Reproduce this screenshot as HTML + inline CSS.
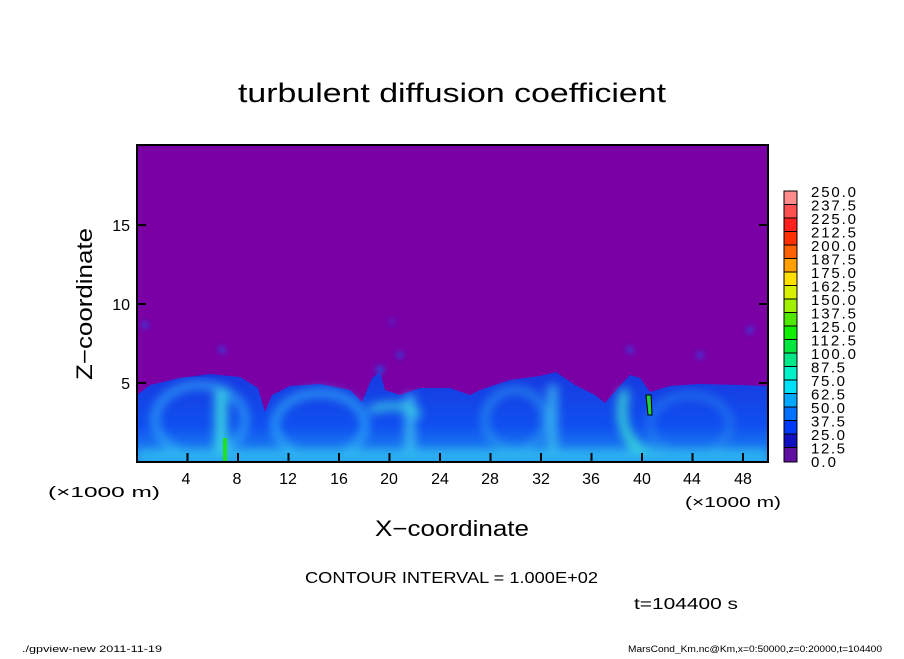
<!DOCTYPE html>
<html><head><meta charset="utf-8"><style>
body{margin:0;background:#fff;}
svg text{font-family:"Liberation Sans",sans-serif;fill:#000;}
</style></head><body>
<svg width="904" height="654" viewBox="0 0 904 654" xmlns="http://www.w3.org/2000/svg">
<defs>
<filter id="b3"><feGaussianBlur stdDeviation="3"/></filter>
<filter id="b6"><feGaussianBlur stdDeviation="5"/></filter>
<linearGradient id="lg" x1="0" y1="0" x2="0" y2="1">
<stop offset="0" stop-color="#1838e0"/><stop offset="0.6" stop-color="#1050f0"/><stop offset="1" stop-color="#2090f0"/>
</linearGradient>
<clipPath id="cp"><rect x="137" y="145" width="631" height="317"/></clipPath>
</defs>
<text x="238" y="102" font-size="27" textLength="428" lengthAdjust="spacingAndGlyphs">turbulent diffusion coefficient</text>
<g clip-path="url(#cp)">
<rect x="137" y="145" width="631" height="317" fill="#7a00a6"/>
<path d="M137,395 L150,385 L180,378 L210,374 L240,377 L258,388 L265,412 L272,395 L290,386 L320,384 L350,390 L362,402 L372,378 L380,372 L385,390 L400,395 L420,388 L450,388 L470,395 L480,390 L510,380 L540,376 L556,372 L575,385 L595,395 L605,403 L618,388 L630,375 L640,378 L650,392 L670,386 L700,384 L740,385 L768,386 L768,462 L137,462 Z" fill="url(#lg)"/>
<g filter="url(#b6)" opacity="0.85">
<ellipse cx="200" cy="420" rx="45" ry="35" fill="none" stroke="#30b0f8" stroke-width="7"/>
<ellipse cx="320" cy="425" rx="45" ry="32" fill="none" stroke="#30b8f8" stroke-width="7"/>
<ellipse cx="515" cy="420" rx="30" ry="30" fill="none" stroke="#2aa0f0" stroke-width="6"/>
<ellipse cx="690" cy="425" rx="40" ry="30" fill="none" stroke="#2a90f0" stroke-width="5"/>
<rect x="215" y="390" width="12" height="70" fill="#40e8e0"/>
<rect x="548" y="385" width="9" height="75" fill="#40c8f0"/>
<rect x="405" y="395" width="10" height="65" fill="#40c8f0"/>
<path d="M625,390 Q615,430 640,450 L660,455" stroke="#40f0d0" stroke-width="9" fill="none"/>
<path d="M370,410 Q400,400 420,415" stroke="#40e8e0" stroke-width="7" fill="none"/>
<rect x="137" y="450" width="631" height="12" fill="#30c0f0"/>
</g>
<g fill="#2050e8" filter="url(#b3)">
<circle cx="222" cy="350" r="3"/><circle cx="380" cy="370" r="4"/><circle cx="400" cy="355" r="3"/><circle cx="630" cy="350" r="3"/><circle cx="700" cy="355" r="3"/><circle cx="750" cy="330" r="3"/><circle cx="145" cy="325" r="3"/><circle cx="392" cy="322" r="2"/>
</g>
<rect x="223" y="438" width="4" height="24" fill="#20e020"/>
<path d="M646,395 L651,395 L652,415 L648,415 Z" fill="#20d040" stroke="#000" stroke-width="1"/>
</g>
<rect x="137" y="145" width="631" height="317" fill="none" stroke="#000" stroke-width="2"/>
<g stroke="#000" stroke-width="2">
<line x1="187.5" y1="462" x2="187.5" y2="453"/><line x1="238" y1="462" x2="238" y2="453"/><line x1="288.5" y1="462" x2="288.5" y2="453"/><line x1="339" y1="462" x2="339" y2="453"/><line x1="389.5" y1="462" x2="389.5" y2="453"/><line x1="440" y1="462" x2="440" y2="453"/><line x1="490.5" y1="462" x2="490.5" y2="453"/><line x1="541" y1="462" x2="541" y2="453"/><line x1="591.5" y1="462" x2="591.5" y2="453"/><line x1="642" y1="462" x2="642" y2="453"/><line x1="692.5" y1="462" x2="692.5" y2="453"/><line x1="743" y1="462" x2="743" y2="453"/>
<line x1="137" y1="383" x2="146" y2="383"/><line x1="137" y1="304" x2="146" y2="304"/><line x1="137" y1="225" x2="146" y2="225"/>
<line x1="768" y1="383" x2="759" y2="383"/><line x1="768" y1="304" x2="759" y2="304"/><line x1="768" y1="225" x2="759" y2="225"/>
</g>
<g font-size="16" text-anchor="middle">
<text x="186" y="484">4</text><text x="237" y="484">8</text><text x="288" y="484">12</text><text x="339" y="484">16</text><text x="389" y="484">20</text><text x="440" y="484">24</text><text x="490" y="484">28</text><text x="541" y="484">32</text><text x="591" y="484">36</text><text x="642" y="484">40</text><text x="692" y="484">44</text><text x="743" y="484">48</text>
</g>
<g font-size="16" text-anchor="end">
<text x="130" y="389">5</text><text x="130" y="310">10</text><text x="130" y="231">15</text>
</g>
<text x="48" y="497" font-size="15" textLength="112" lengthAdjust="spacingAndGlyphs">(×1000 m)</text>
<text x="685" y="507" font-size="15" textLength="96" lengthAdjust="spacingAndGlyphs">(×1000 m)</text>
<text x="375" y="536" font-size="22" textLength="154" lengthAdjust="spacingAndGlyphs">X−coordinate</text>
<text transform="translate(92,380) rotate(-90)" font-size="22" textLength="152" lengthAdjust="spacingAndGlyphs">Z−coordinate</text>
<text x="305" y="583" font-size="16" textLength="293" lengthAdjust="spacingAndGlyphs">CONTOUR INTERVAL = 1.000E+02</text>
<text x="634" y="609" font-size="16" textLength="104" lengthAdjust="spacingAndGlyphs">t=104400 s</text>
<text x="22" y="652" font-size="9" textLength="140" lengthAdjust="spacingAndGlyphs">./gpview-new   2011-11-19</text>
<text x="628" y="652" font-size="9" textLength="254" lengthAdjust="spacingAndGlyphs">MarsCond_Km.nc@Km,x=0:50000,z=0:20000,t=104400</text>
<g stroke="#000" stroke-width="1">
<rect x="784" y="191" width="13" height="13.5" fill="#ff8c8c"/>
<rect x="784" y="204.5" width="13" height="13.5" fill="#ff5050"/>
<rect x="784" y="218" width="13" height="13.5" fill="#ff2020"/>
<rect x="784" y="231.5" width="13" height="13.5" fill="#ff3000"/>
<rect x="784" y="245" width="13" height="13.5" fill="#ff6000"/>
<rect x="784" y="258.5" width="13" height="13.5" fill="#ffa000"/>
<rect x="784" y="272" width="13" height="13.5" fill="#ffe000"/>
<rect x="784" y="285.5" width="13" height="13.5" fill="#d8f000"/>
<rect x="784" y="299" width="13" height="13.5" fill="#a0f000"/>
<rect x="784" y="312.5" width="13" height="13.5" fill="#50e800"/>
<rect x="784" y="326" width="13" height="13.5" fill="#10f000"/>
<rect x="784" y="339.5" width="13" height="13.5" fill="#00e840"/>
<rect x="784" y="353" width="13" height="13.5" fill="#00e888"/>
<rect x="784" y="366.5" width="13" height="13.5" fill="#00f0c8"/>
<rect x="784" y="380" width="13" height="13.5" fill="#00e0f8"/>
<rect x="784" y="393.5" width="13" height="13.5" fill="#00a8ff"/>
<rect x="784" y="407" width="13" height="13.5" fill="#0070ff"/>
<rect x="784" y="420.5" width="13" height="13.5" fill="#0038f8"/>
<rect x="784" y="434" width="13" height="13.5" fill="#1010c0"/>
<rect x="784" y="447.5" width="13" height="14.5" fill="#6010a0"/>
</g>
<g font-size="15" lengthAdjust="spacingAndGlyphs">
<text x="811" y="197" textLength="45">250.0</text><text x="811" y="210.5" textLength="45">237.5</text><text x="811" y="224" textLength="45">225.0</text><text x="811" y="237.5" textLength="45">212.5</text><text x="811" y="251" textLength="45">200.0</text><text x="811" y="264.5" textLength="45">187.5</text><text x="811" y="278" textLength="45">175.0</text><text x="811" y="291.5" textLength="45">162.5</text><text x="811" y="305" textLength="45">150.0</text><text x="811" y="318.5" textLength="45">137.5</text><text x="811" y="332" textLength="45">125.0</text><text x="811" y="345.5" textLength="45">112.5</text><text x="811" y="359" textLength="45">100.0</text><text x="811" y="372.5" textLength="34">87.5</text><text x="811" y="386" textLength="34">75.0</text><text x="811" y="399.5" textLength="34">62.5</text><text x="811" y="413" textLength="34">50.0</text><text x="811" y="426.5" textLength="34">37.5</text><text x="811" y="440" textLength="34">25.0</text><text x="811" y="453.5" textLength="34">12.5</text><text x="811" y="467" textLength="25">0.0</text>
</g>
</svg>
</body></html>
